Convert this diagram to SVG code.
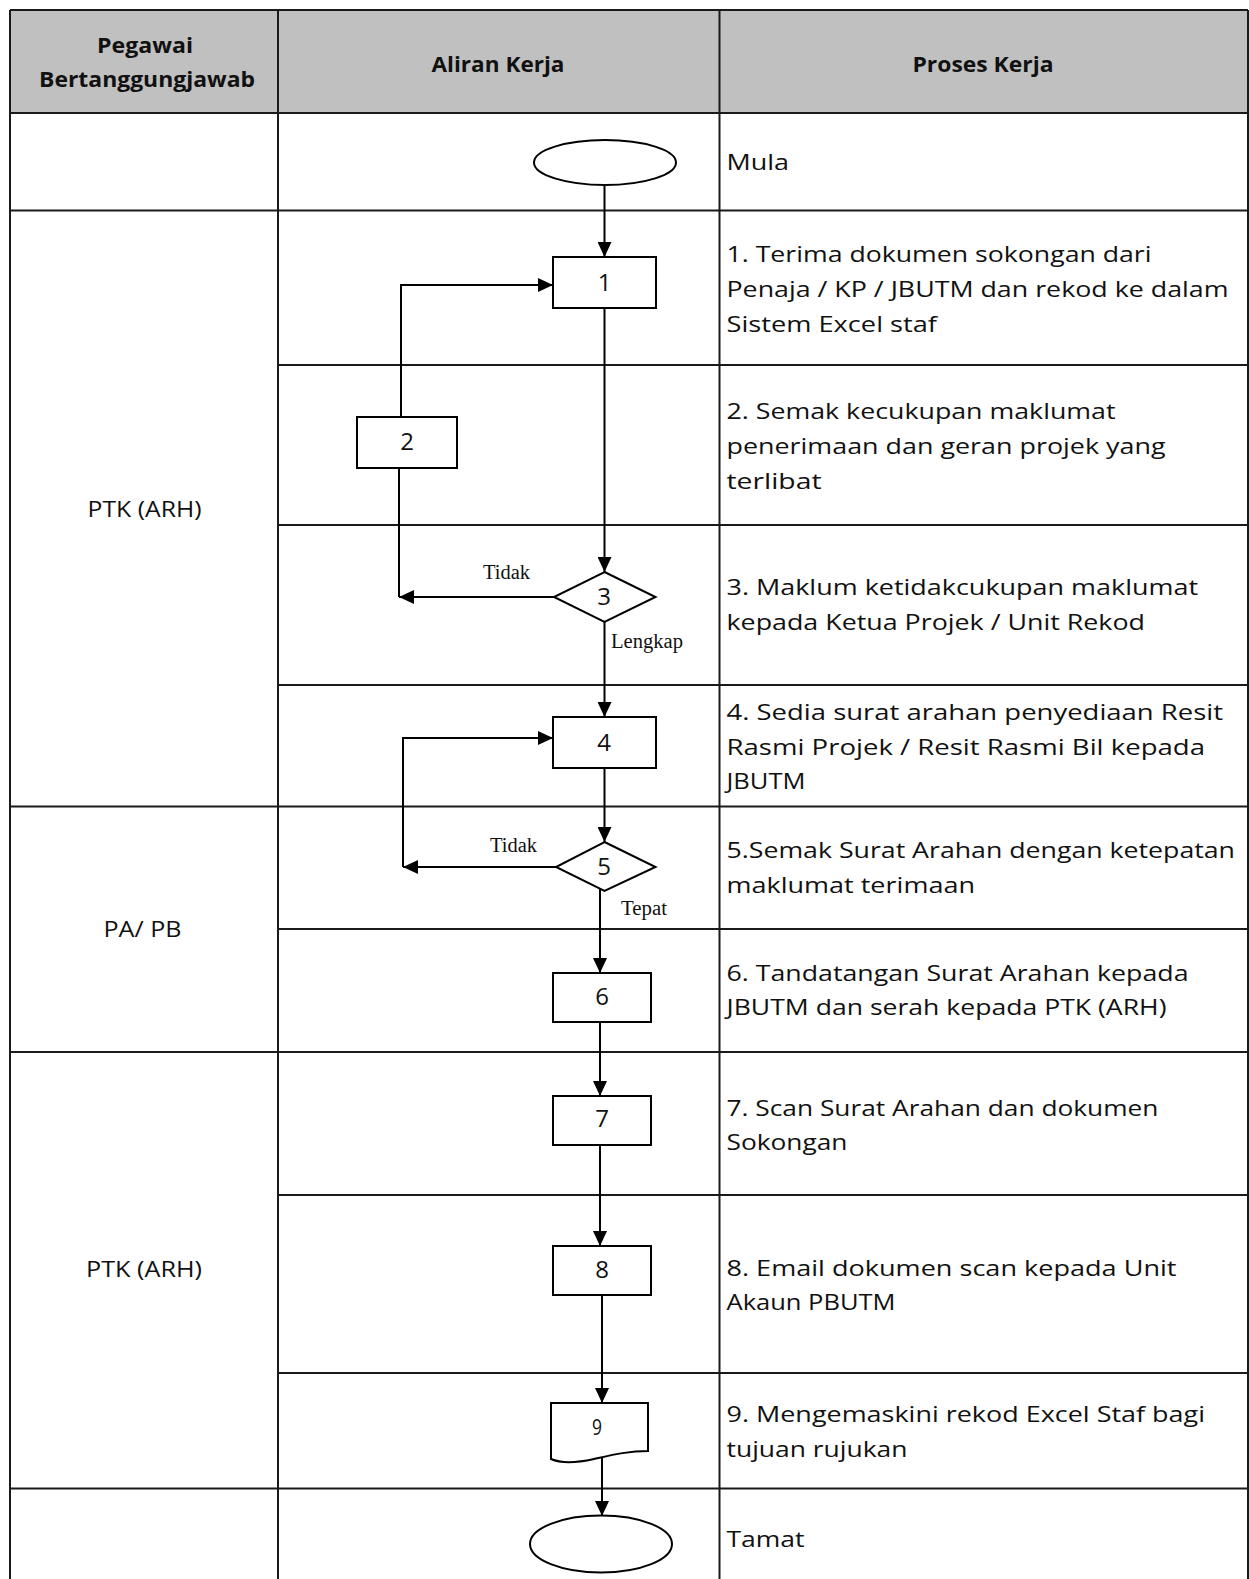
<svg xmlns="http://www.w3.org/2000/svg" width="1249" height="1579" viewBox="0 0 1249 1579">
<style>
.grid{stroke:#1a1a1a;stroke-width:2;fill:none}
.hdr{font-family:"Open Sans","Noto Sans",sans-serif;font-weight:bold;font-size:22px;fill:#111;text-anchor:middle}
.lane{font-family:"Open Sans","Noto Sans",sans-serif;font-size:22px;fill:#111;text-anchor:middle}
.step{font-family:"Open Sans","Noto Sans",sans-serif;font-size:22px;fill:#111}
.shape{fill:#fff;stroke:#000;stroke-width:2}
.num{font-family:"Open Sans","Noto Sans",sans-serif;font-size:24px;fill:#111;text-anchor:middle}
.lbl{font-family:"Liberation Serif","Times New Roman",serif;font-size:20px;fill:#111}
.conn{stroke:#000;stroke-width:2;fill:none}
</style>
<defs>
<marker id="ah" markerWidth="15" markerHeight="14" refX="15" refY="7" orient="auto" markerUnits="userSpaceOnUse">
<path d="M0,0 L15,7 L0,14 z" fill="#000"/>
</marker>
</defs>
<rect x="0" y="0" width="1249" height="1579" fill="#fff"/>
<g id="table">
<rect x="10" y="10" width="1238" height="103" fill="#c0c0c0"/>
<line class="grid" x1="10" y1="10" x2="1248" y2="10"/>
<line class="grid" x1="10" y1="10" x2="10" y2="1579"/>
<line class="grid" x1="278" y1="10" x2="278" y2="1579"/>
<line class="grid" x1="719.5" y1="10" x2="719.5" y2="1579"/>
<line class="grid" x1="1248" y1="10" x2="1248" y2="1579"/>
<line class="grid" x1="10" y1="113" x2="1248" y2="113"/>
<line class="grid" x1="10" y1="210.5" x2="1248" y2="210.5"/>
<line class="grid" x1="278" y1="365" x2="1248" y2="365"/>
<line class="grid" x1="278" y1="525" x2="1248" y2="525"/>
<line class="grid" x1="278" y1="685" x2="1248" y2="685"/>
<line class="grid" x1="10" y1="806.5" x2="1248" y2="806.5"/>
<line class="grid" x1="278" y1="929" x2="1248" y2="929"/>
<line class="grid" x1="10" y1="1052" x2="1248" y2="1052"/>
<line class="grid" x1="278" y1="1195" x2="1248" y2="1195"/>
<line class="grid" x1="278" y1="1373" x2="1248" y2="1373"/>
<line class="grid" x1="10" y1="1488.5" x2="1248" y2="1488.5"/>
</g>
<g id="headers">
<text class="hdr" x="145" y="53" textLength="96" lengthAdjust="spacingAndGlyphs">Pegawai</text>
<text class="hdr" x="147" y="87" textLength="216" lengthAdjust="spacingAndGlyphs">Bertanggungjawab</text>
<text class="hdr" x="498" y="72" textLength="133" lengthAdjust="spacingAndGlyphs">Aliran Kerja</text>
<text class="hdr" x="983" y="72" textLength="141" lengthAdjust="spacingAndGlyphs">Proses Kerja</text>
</g>
<g id="lanes">
<text class="lane" x="144.5" y="517" textLength="114" lengthAdjust="spacingAndGlyphs">PTK (ARH)</text>
<text class="lane" x="142.5" y="937" textLength="78" lengthAdjust="spacingAndGlyphs">PA/ PB</text>
<text class="lane" x="144" y="1277" textLength="116" lengthAdjust="spacingAndGlyphs">PTK (ARH)</text>
</g>
<g id="steps">
<text class="step" x="726.5" y="170" textLength="62.5" lengthAdjust="spacingAndGlyphs">Mula</text>
<text class="step" x="726.5" y="262" textLength="425" lengthAdjust="spacingAndGlyphs">1. Terima dokumen sokongan dari</text>
<text class="step" x="726.5" y="297" textLength="502" lengthAdjust="spacingAndGlyphs">Penaja / KP / JBUTM dan rekod ke dalam</text>
<text class="step" x="726.5" y="332" textLength="210.5" lengthAdjust="spacingAndGlyphs">Sistem Excel staf</text>
<text class="step" x="726.5" y="419" textLength="389" lengthAdjust="spacingAndGlyphs">2. Semak kecukupan maklumat</text>
<text class="step" x="726.5" y="454" textLength="439" lengthAdjust="spacingAndGlyphs">penerimaan dan geran projek yang</text>
<text class="step" x="726.5" y="489" textLength="95" lengthAdjust="spacingAndGlyphs">terlibat</text>
<text class="step" x="726.5" y="595" textLength="471.5" lengthAdjust="spacingAndGlyphs">3. Maklum ketidakcukupan maklumat</text>
<text class="step" x="726.5" y="630" textLength="418.5" lengthAdjust="spacingAndGlyphs">kepada Ketua Projek / Unit Rekod</text>
<text class="step" x="726.5" y="720" textLength="496.5" lengthAdjust="spacingAndGlyphs">4. Sedia surat arahan penyediaan Resit</text>
<text class="step" x="726.5" y="755" textLength="478.5" lengthAdjust="spacingAndGlyphs">Rasmi Projek / Resit Rasmi Bil kepada</text>
<text class="step" x="726.5" y="789" textLength="79" lengthAdjust="spacingAndGlyphs">JBUTM</text>
<text class="step" x="726.5" y="858" textLength="508.5" lengthAdjust="spacingAndGlyphs">5.Semak Surat Arahan dengan ketepatan</text>
<text class="step" x="726.5" y="893" textLength="248.5" lengthAdjust="spacingAndGlyphs">maklumat terimaan</text>
<text class="step" x="726.5" y="981" textLength="462" lengthAdjust="spacingAndGlyphs">6. Tandatangan Surat Arahan kepada</text>
<text class="step" x="726.5" y="1015" textLength="440" lengthAdjust="spacingAndGlyphs">JBUTM dan serah kepada PTK (ARH)</text>
<text class="step" x="726.5" y="1116" textLength="432" lengthAdjust="spacingAndGlyphs">7. Scan Surat Arahan dan dokumen</text>
<text class="step" x="726.5" y="1150" textLength="121" lengthAdjust="spacingAndGlyphs">Sokongan</text>
<text class="step" x="726.5" y="1275.5" textLength="450" lengthAdjust="spacingAndGlyphs">8. Email dokumen scan kepada Unit</text>
<text class="step" x="726.5" y="1310" textLength="169" lengthAdjust="spacingAndGlyphs">Akaun PBUTM</text>
<text class="step" x="726.5" y="1422" textLength="478.5" lengthAdjust="spacingAndGlyphs">9. Mengemaskini rekod Excel Staf bagi</text>
<text class="step" x="726.5" y="1457" textLength="181" lengthAdjust="spacingAndGlyphs">tujuan rujukan</text>
<text class="step" x="726.5" y="1547" textLength="78" lengthAdjust="spacingAndGlyphs">Tamat</text>
</g>
<g id="connectors">
<line class="conn" x1="604.5" y1="185" x2="604.5" y2="257" marker-end="url(#ah)"/>
<line class="conn" x1="604.5" y1="308" x2="604.5" y2="572" marker-end="url(#ah)"/>
<line class="conn" x1="554" y1="597" x2="399" y2="597" marker-end="url(#ah)"/>
<line class="conn" x1="399" y1="597" x2="399" y2="468"/>
<polyline class="conn" points="401,417 401,285 553,285" marker-end="url(#ah)"/>
<line class="conn" x1="604.5" y1="622" x2="604.5" y2="717" marker-end="url(#ah)"/>
<line class="conn" x1="604.5" y1="768" x2="604.5" y2="842" marker-end="url(#ah)"/>
<line class="conn" x1="556" y1="867" x2="403" y2="867" marker-end="url(#ah)"/>
<polyline class="conn" points="403,867 403,738 553,738" marker-end="url(#ah)"/>
<line class="conn" x1="600" y1="889" x2="600" y2="973" marker-end="url(#ah)"/>
<line class="conn" x1="600" y1="1022" x2="600" y2="1096" marker-end="url(#ah)"/>
<line class="conn" x1="600" y1="1145" x2="600" y2="1246" marker-end="url(#ah)"/>
<line class="conn" x1="602" y1="1295" x2="602" y2="1403" marker-end="url(#ah)"/>
<line class="conn" x1="602" y1="1458" x2="602" y2="1516" marker-end="url(#ah)"/>
<text class="lbl" x="483" y="579" textLength="47" lengthAdjust="spacingAndGlyphs">Tidak</text>
<text class="lbl" x="611" y="648" textLength="72" lengthAdjust="spacingAndGlyphs">Lengkap</text>
<text class="lbl" x="490" y="852" textLength="47" lengthAdjust="spacingAndGlyphs">Tidak</text>
<text class="lbl" x="621" y="915" textLength="46" lengthAdjust="spacingAndGlyphs">Tepat</text>
</g>
<g id="start">
<ellipse class="shape" cx="605" cy="162.5" rx="71" ry="22.5"/>
</g>
<g id="n1">
<rect class="shape" x="553" y="257" width="103" height="51"/>
<text class="num" x="604.5" y="291">1</text>
</g>
<g id="n2">
<rect class="shape" x="357" y="417" width="100" height="51"/>
<text class="num" x="407" y="450">2</text>
</g>
<g id="n3">
<polygon class="shape" points="604.5,572 655.5,597 604.5,622 554,597"/>
<text class="num" x="604" y="605">3</text>
</g>
<g id="n4">
<rect class="shape" x="553" y="717" width="103" height="51"/>
<text class="num" x="604" y="751">4</text>
</g>
<g id="n5">
<polygon class="shape" points="604.5,842 655.5,867 604.5,891 556,867"/>
<text class="num" x="604" y="875">5</text>
</g>
<g id="n6">
<rect class="shape" x="553" y="973" width="98" height="49"/>
<text class="num" x="602" y="1005">6</text>
</g>
<g id="n7">
<rect class="shape" x="553" y="1096" width="98" height="49"/>
<text class="num" x="602" y="1127">7</text>
</g>
<g id="n8">
<rect class="shape" x="553" y="1246" width="98" height="49"/>
<text class="num" x="602" y="1278">8</text>
</g>
<g id="n9">
<path class="shape" d="M551,1403 L648,1403 L648,1451 C628,1451 612,1455 594,1459 C576,1463 560,1463 551,1459 Z"/>
<text class="num" x="597" y="1435" style="font-size:21px" textLength="10" lengthAdjust="spacingAndGlyphs">9</text>
</g>
<g id="end">
<ellipse class="shape" cx="601" cy="1544" rx="71" ry="28.5"/>
</g>
</svg>
